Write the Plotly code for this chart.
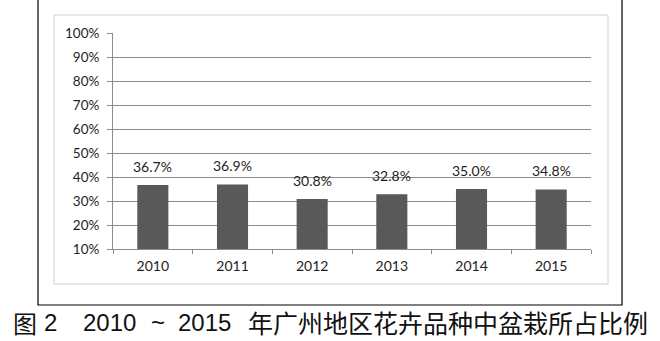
import plotly.graph_objects as go

years = ["2010", "2011", "2012", "2013", "2014", "2015"]
shares = [0.367, 0.369, 0.308, 0.328, 0.350, 0.348]
ytick_vals = [0.1, 0.2, 0.3, 0.4, 0.5, 0.6, 0.7, 0.8, 0.9, 1.0]
ytick_text = ["10%", "20%", "30%", "40%", "50%", "60%", "70%", "80%", "90%", "100%"]

FONT = "Lato, Carlito, Calibri, sans-serif"

fig = go.Figure()
fig.add_trace(go.Bar(
    x=years, y=shares, width=0.39,
    marker=dict(color="#595959", line=dict(width=0)),
    hoverinfo="skip",
))

for i, v in enumerate(shares):
    fig.add_annotation(x=i, y=v, text=f"{v*100:.1f}%", showarrow=False,
                       yanchor="bottom", yshift=8,
                       font=dict(family=FONT, size=14, color="#1e1e1e"))

# outer frame (black) and inner faint chart border
fig.add_shape(type="rect", xref="paper", yref="paper",
              x0=-0.1569, x1=1.0649, y0=-0.2593, y1=1.2,
              line=dict(color="#000000", width=1.2), layer="below")
fig.add_shape(type="rect", xref="paper", yref="paper",
              x0=-0.1234, x1=1.0356, y0=-0.162, y1=1.0833,
              line=dict(color="#d0d0d0", width=1), layer="below")

# caption
cap_font = dict(family="Liberation Sans, Arial, Noto Sans CJK SC", size=24, color="#111111")
cjk_font = dict(family="Noto Sans CJK SC", size=24, color="#111111")
def px_x(px):
    return (px - 113) / 478
def px_y(py):
    return (249 - py) / 216
fig.add_annotation(xref="paper", yref="paper", x=px_x(11), y=px_y(322),
                   xanchor="left", yanchor="middle", showarrow=False,
                   text="图", font=cjk_font)
fig.add_annotation(xref="paper", yref="paper", x=px_x(42), y=px_y(322),
                   xanchor="left", yanchor="middle", showarrow=False,
                   text="2", font=cap_font)
fig.add_annotation(xref="paper", yref="paper", x=px_x(81), y=px_y(322),
                   xanchor="left", yanchor="middle", showarrow=False,
                   text="2010", font=cap_font)
fig.add_annotation(xref="paper", yref="paper", x=px_x(158), y=px_y(322),
                   xanchor="center", yanchor="middle", showarrow=False,
                   text="~", font=cap_font)
fig.add_annotation(xref="paper", yref="paper", x=px_x(176), y=px_y(322),
                   xanchor="left", yanchor="middle", showarrow=False,
                   text="2015", font=cap_font)
fig.add_annotation(xref="paper", yref="paper", x=px_x(246), y=px_y(322),
                   xanchor="left", yanchor="middle", showarrow=False,
                   text="年广州地区花卉品种中盆栽所占比例",
                   font=dict(family="Noto Sans CJK SC", size=25, color="#111111"))

fig.update_layout(
    width=660, height=341,
    margin=dict(l=113, r=69, t=33, b=92, pad=0),
    paper_bgcolor="white", plot_bgcolor="white",
    showlegend=False, bargap=0.61,
    font=dict(family=FONT, size=13, color="#222222"),
)
fig.update_xaxes(
    type="category", showgrid=False, range=[-0.5, len(years) - 0.5],
    showline=True, linecolor="#8c8c8c", linewidth=1,
    ticks="outside", tickson="boundaries", ticklen=4, tickcolor="#8c8c8c",
    tickfont=dict(family=FONT, size=14, color="#1e1e1e"), tickangle=0,
    ticklabelstandoff=4,
)
fig.update_yaxes(
    range=[0.1, 1.0], tickvals=ytick_vals, ticktext=ytick_text,
    showgrid=True, gridcolor="#8c8c8c", gridwidth=1,
    showline=True, linecolor="#8c8c8c", linewidth=1,
    ticks="outside", ticklen=5, tickcolor="#8c8c8c",
    tickfont=dict(family=FONT, size=13.5, color="#1e1e1e"),
    ticklabelstandoff=5,
    zeroline=False,
)

fig.write_html("out.html")
